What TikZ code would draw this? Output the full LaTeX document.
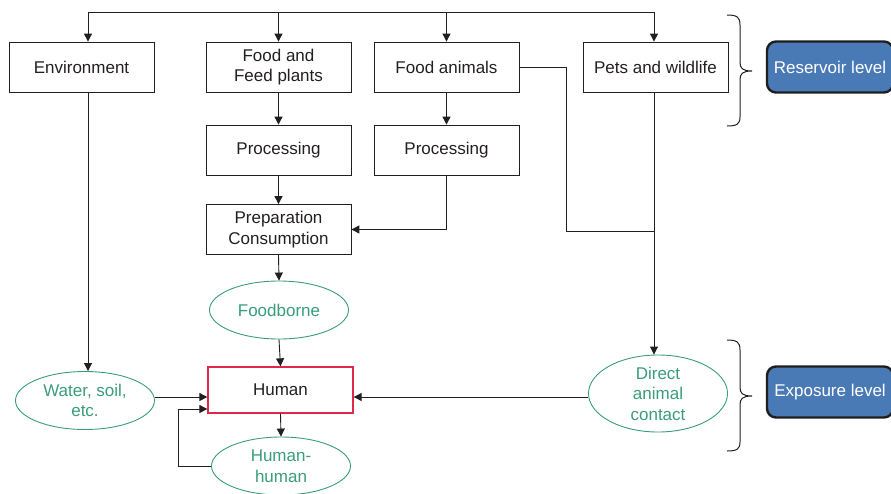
\documentclass[tikz,border=0pt]{standalone}
\usepackage{fontspec}
\setmainfont{Liberation Sans}
\usetikzlibrary{arrows.meta,shapes.geometric}
\definecolor{txt}{HTML}{231F20}
\definecolor{grn}{HTML}{3A9C78}
\definecolor{hred}{HTML}{E0284A}
\definecolor{lblue}{HTML}{4A7AB6}
\definecolor{ldark}{HTML}{1E1E1E}
\tikzset{
  box/.style={draw=txt, line width=0.8pt, minimum width=145pt, minimum height=50pt, inner sep=0pt, align=center, text=txt},
  ell/.style={ellipse, draw=grn, line width=0.9pt, minimum width=139pt, minimum height=58pt, inner sep=0pt, align=center, text=grn},
  humanbox/.style={draw=hred, line width=1.3pt, minimum width=145pt, minimum height=46pt, inner sep=0pt, text=txt},
  levelbox/.style={draw=ldark, line width=2.4pt, fill=lblue, rounded corners=9pt, minimum width=126pt, minimum height=51pt, inner sep=0pt, text=white},
  conn/.style={draw=txt, line width=0.9pt},
  arr/.style={conn, -{Triangle[length=8pt,width=8pt]}},
  bracestyle/.style={draw=txt, line width=1pt}
}
\begin{document}
\begin{tikzpicture}[x=1pt, y=-1pt, font=\fontsize{17}{20.5}\selectfont]
\useasboundingbox (0,0) rectangle (891,493);

% nodes
\node[box] (env) at (81.5,67) {Environment};
\node[box] (ffp) at (278.5,67) {Food and\\Feed plants};
\node[box] (fa) at (446.5,67) {Food animals};
\node[box] (pets) at (655.5,67) {Pets and wildlife};
\node[box] (proc1) at (278.5,150) {Processing};
\node[box] (proc2) at (446.5,150) {Processing};
\node[box] (prep) at (278.5,229.5) {Preparation\\Consumption};
\node[ell] (food) at (279,310) {Foodborne};
\node[humanbox] (human) at (280.5,390) {Human};
\node[ell] (water) at (85,400.5) {Water, soil,\\etc.};
\node[ell] (hh) at (281,466) {Human-\\human};
\node[ell, minimum height=77pt] (dac) at (658,393.5) {Direct\\animal\\contact};
\node[levelbox] (res) at (830,67) {Reservoir level};
\node[levelbox] (exp) at (830,392) {Exposure level};

% coordinates
\coordinate (tl) at (88,12);
\coordinate (tr) at (654,12);
\coordinate (bend) at (566,231);
\coordinate (hy) at (0,397);
\coordinate (loop) at (178,409);

% top distribution line
\draw[conn] (tl) -- (tr);
\draw[arr] (tl) -- (tl |- env.north);
\draw[arr] (ffp.north |- tl) -- (ffp.north);
\draw[arr] (fa.north |- tl) -- (fa.north);
\draw[arr] (tr) -- (tr |- pets.north);

% food chains
\draw[arr] (ffp.south) -- (proc1.north);
\draw[arr] (fa.south) -- (proc2.north);
\draw[arr] (proc1.south) -- (prep.north);
\draw[arr] (proc2.south) |- (prep.east);
\draw[arr] (prep.south) -- (food.north);
\draw[arr] (food.south) -- (human.north);

% environment
\draw[arr] (tl |- env.south) -- (tl |- water.north);
\draw[arr] (water.east |- hy) -- (human.west |- hy);

% animals
\draw[conn] (fa.east) -| (bend) -- (bend -| tr);
\draw[arr] (tr |- pets.south) -- (tr |- dac.north);
\draw[arr] (dac.west |- hy) -- (human.east |- hy);

% human-human
\draw[arr] (human.south) -- (hh.north);
\draw[arr] (hh.west) -| (loop) -- (loop -| human.west);

% braces
\foreach \dy in {0,325}{
\begin{scope}[yshift=-\dy pt]
\draw[bracestyle] (727,15) .. controls (737,15) and (740,17) .. (740,25) -- (740,62)
  .. controls (740,68) and (742,71) .. (752,71)
  .. controls (742,71) and (740,74) .. (740,80) -- (740,117)
  .. controls (740,124) and (737,126) .. (727,126);
\end{scope}
}
\end{tikzpicture}
\end{document}
